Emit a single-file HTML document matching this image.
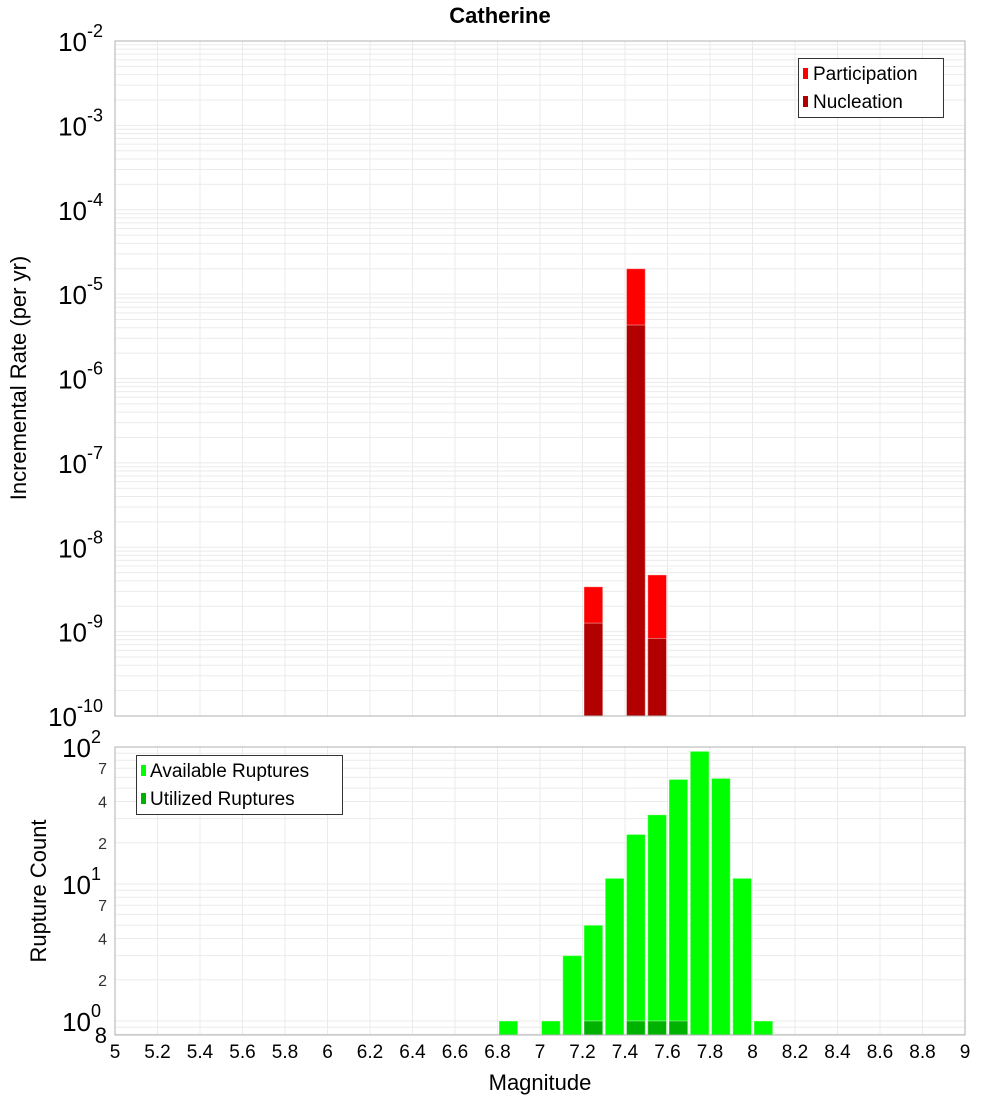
<!DOCTYPE html>
<html><head><meta charset="utf-8"><style>
body{margin:0;background:#fff;}
svg{display:block;font-family:"Liberation Sans","DejaVu Sans",sans-serif;}
</style></head><body>
<svg id="chart" width="1000" height="1100" viewBox="0 0 1000 1100">
<text x="500" y="23" text-anchor="middle" font-size="22" font-weight="bold">Catherine</text>
<g id="topplot"></g>
<g id="botplot"></g>
<text x="540" y="1090" text-anchor="middle" font-size="22">Magnitude</text>
<text transform="translate(26,378) rotate(-90)" text-anchor="middle" font-size="22">Incremental Rate (per yr)</text>
<text transform="translate(46,891) rotate(-90)" text-anchor="middle" font-size="22">Rupture Count</text>
</svg>
<script>
// data
const rateBins = [7.2, 7.4, 7.5];
const participation = [3.4e-9, 2.0e-5, 4.7e-9];
const nucleation = [1.26e-9, 4.3e-6, 8.3e-10];
const countBins = [6.8, 7.0, 7.1, 7.2, 7.3, 7.4, 7.5, 7.6, 7.7, 7.8, 7.9, 8.0];
const available = [1, 1, 3, 5, 11, 23, 32, 58, 93, 59, 11, 1];
const utilized = [0, 0, 0, 1, 0, 1, 1, 1, 0, 0, 0, 0];
const xTicks = [5,5.2,5.4,5.6,5.8,6,6.2,6.4,6.6,6.8,7,7.2,7.4,7.6,7.8,8,8.2,8.4,8.6,8.8,9];
const topDecades = [-2,-3,-4,-5,-6,-7,-8,-9,-10];
const botMinorLabels = [2,4,7];

const NS='http://www.w3.org/2000/svg';
const L=115,R=965;
const xs=m=>L+(m-5)/4*(R-L);
const T1=41,B1=716, yTop=v=>T1+(-2-Math.log10(v))/8*(B1-T1);
const T2=747,B2=1035,DEC2=137, yBot=v=>T2+(2-Math.log10(v))*DEC2;
function mk(parent,tag,attrs,text){const e=document.createElementNS(NS,tag);for(const k in attrs)e.setAttribute(k,attrs[k]);if(text!==undefined)e.textContent=text;parent.appendChild(e);return e;}
const topG=document.getElementById('topplot'), botG=document.getElementById('botplot');

function frameGrid(g,T,B,yf,minV,maxV){
  mk(g,'rect',{x:L,y:T,width:R-L,height:B-T,fill:'#fff'});
  for(let e=Math.floor(Math.log10(minV));e<=Math.ceil(Math.log10(maxV));e++){
    for(let k=1;k<10;k++){const v=k*Math.pow(10,e);const y=yf(v);if(y<T-0.5||y>B+0.5)continue;
      const ln=mk(g,'line',{x1:L,x2:R,y1:y,y2:y,stroke:'#ebebeb','stroke-width':1});
      
      }
  }
  xTicks.forEach(t=>{const x=xs(t);const ln=mk(g,'line',{x1:x,x2:x,y1:T,y2:B,stroke:'#ebebeb','stroke-width':1});
    
    });
}
function bars(g,bins,vals,yf,base,color,name){
  bins.forEach((b,i)=>{if(!vals[i])return;const x0=xs(b)+1.5,x1=xs(b+0.1)-1;const y=yf(vals[i]);
    const r=mk(g,'rect',{x:x0,y:y,width:x1-x0,height:base-y,fill:color,stroke:'#ffffff','stroke-opacity':0.4,'stroke-width':1});
    
    });
}
// top plot
frameGrid(topG,T1,B1,yTop,1e-10,1e-2);
bars(topG,rateBins,participation,yTop,B1,'#ff0000','participation');
bars(topG,rateBins,nucleation,yTop,B1,'#b20000','nucleation');
mk(topG,'rect',{x:L,y:T1,width:R-L,height:B1-T1,fill:'none',stroke:'#b0b0b0'});
topDecades.forEach(d=>{const y=yTop(Math.pow(10,d));
  const t=mk(topG,'text',{x:103,y:y+10,'text-anchor':'end','font-size':26});
  
  
  t.textContent='10';
  mk(t,'tspan',{dy:-14,'font-size':18},String(d));
});
// legend top
const lg1=mk(topG,'g',{});


mk(lg1,'rect',{x:798.5,y:58.5,width:145,height:59,fill:'#fff',stroke:'#333'});
mk(lg1,'rect',{x:803,y:68,width:5,height:11,fill:'#ff0000'});
mk(lg1,'text',{x:813,y:80,'font-size':19},'Participation');
mk(lg1,'rect',{x:803,y:96,width:5,height:11,fill:'#b20000'});
mk(lg1,'text',{x:813,y:108,'font-size':19},'Nucleation');

// bottom plot
frameGrid(botG,T2,B2,yBot,0.7,100);
bars(botG,countBins,available,yBot,B2,'#00ff00','available');
bars(botG,countBins,utilized,yBot,B2,'#00b200','utilized');
mk(botG,'rect',{x:L,y:T2,width:R-L,height:B2-T2,fill:'none',stroke:'#b0b0b0'});
[2,1,0].forEach(d=>{const y=yBot(Math.pow(10,d));
  const t=mk(botG,'text',{x:101,y:y+10,'text-anchor':'end','font-size':26});
  
  
  t.textContent='10';
  mk(t,'tspan',{dy:-14,'font-size':18},String(d));
  if(d>0) botMinorLabels.forEach(k=>{const v=k*Math.pow(10,d-1);const tl=mk(botG,'text',{x:107,y:yBot(v)+6,'text-anchor':'end','font-size':16,fill:'#333'},String(k));
    
    });
});
const l8=mk(botG,'text',{x:107,y:1043,'text-anchor':'end','font-size':22},'8');


xTicks.forEach(t=>{const tx=mk(botG,'text',{x:xs(t),y:1058,'text-anchor':'middle','font-size':19},String(t));
  
  });
const lg2=mk(botG,'g',{});


mk(lg2,'rect',{x:136.5,y:755.5,width:206,height:59,fill:'#fff',stroke:'#333'});
mk(lg2,'rect',{x:141,y:765,width:5,height:11,fill:'#00ff00'});
mk(lg2,'text',{x:150,y:777,'font-size':19},'Available Ruptures');
mk(lg2,'rect',{x:141,y:793,width:5,height:11,fill:'#00b200'});
mk(lg2,'text',{x:150,y:805,'font-size':19},'Utilized Ruptures');
</script>
</body></html>
